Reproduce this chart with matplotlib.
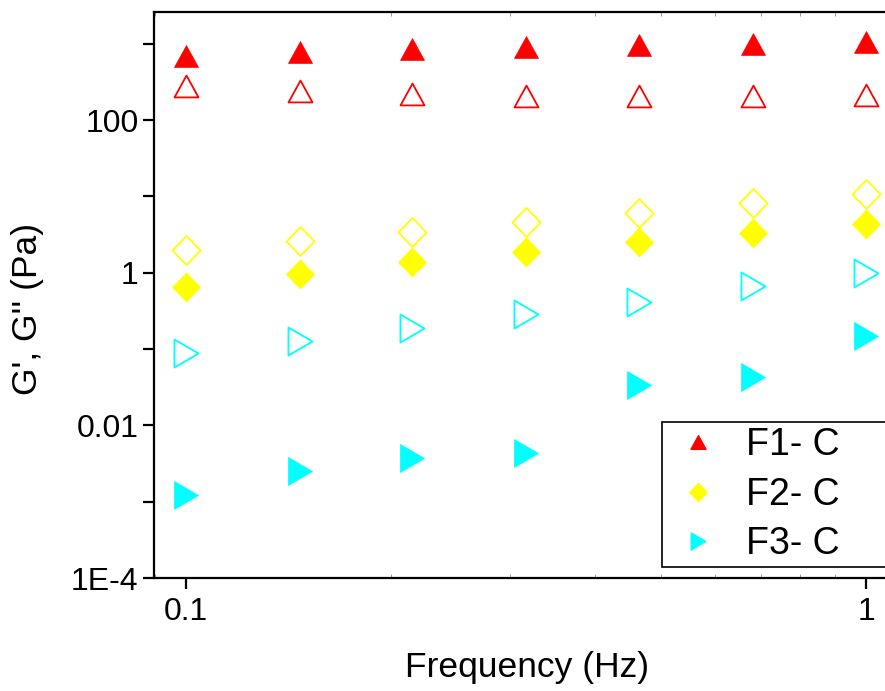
import matplotlib
matplotlib.use("Agg")
import matplotlib.pyplot as plt
from matplotlib.path import Path
from matplotlib.ticker import FixedLocator, FixedFormatter, NullLocator

plt.rcParams['font.family'] = ['Liberation Sans', 'DejaVu Sans']

freq = [0.1, 0.147, 0.215, 0.316, 0.464, 0.681, 1.0]
f1_g1 = [686, 786, 848, 900, 956, 1000, 1047]
f1_g2 = [277, 239, 221, 205, 205, 205, 210]
f2_g1 = [0.656, 0.962, 1.36, 1.86, 2.49, 3.33, 4.32]
f2_g2 = [2.01, 2.60, 3.41, 4.55, 5.97, 8.11, 10.7]
f3_g1 = [0.00121, 0.00249, 0.00376, 0.00435, 0.0338, 0.0433, 0.146]
f3_g2 = [0.0893, 0.128, 0.191, 0.289, 0.417, 0.664, 1.0]

labels = ["F1- C", "F2- C", "F3- C"]
colors = ["#FF0000", "#FFFF00", "#00FFFF"]

ytick_vals = [1e-4, 1e-3, 1e-2, 1e-1, 1, 10, 100, 1000]
ytick_labels = ["1E-4", "", "0.01", "", "1", "", "100", ""]
xtick_vals = [0.1, 1]
xtick_labels = ["0.1", "1"]


def closed(verts):
    return Path(verts + [verts[0]], closed=True)


tri_up = closed([(0, 1), (-1.1, -1), (1.1, -1)])
diamond = closed([(0, 1), (-0.97, 0), (0, -1), (0.97, 0)])
tri_right = closed([(-0.86, 1), (0.86, 0), (-0.86, -1)])

W, H = 885, 691
fig = plt.figure(figsize=(W / 100, H / 100), dpi=100)
ax = fig.add_axes([154 / W, (H - 578) / H, (900 - 154) / W, (578 - 12) / H])
ax.set_xscale('log')
ax.set_yscale('log')
ax.set_xlim(0.0897, 1.122)
ax.set_ylim(1e-4, 2600)

pt = 0.72  # px -> pt at 100 dpi
series = [
    (f1_g1, f1_g2, tri_up, 24 * pt, colors[0]),
    (f2_g1, f2_g2, diamond, 29 * pt, colors[1]),
    (f3_g1, f3_g2, tri_right, 28 * pt, colors[2]),
]
for (g1, g2, mk, ms, c), lab in zip(series, labels):
    ax.plot(freq, g1, linestyle='none', marker=mk, markersize=ms,
            markerfacecolor=c, markeredgecolor=c, markeredgewidth=0.5, label=lab)
    ax.plot(freq, g2, linestyle='none', marker=mk, markersize=ms,
            markerfacecolor='none', markeredgecolor=c, markeredgewidth=1.3)

for s in ax.spines.values():
    s.set_linewidth(1.6)

ax.yaxis.set_major_locator(FixedLocator(ytick_vals))
ax.yaxis.set_major_formatter(FixedFormatter(ytick_labels))
ax.yaxis.set_minor_locator(NullLocator())
ax.xaxis.set_major_locator(FixedLocator(xtick_vals))
ax.xaxis.set_major_formatter(FixedFormatter(xtick_labels))
ax.tick_params(axis='y', which='major', direction='out', length=8, width=1.6,
               labelsize=23, pad=3)
ax.tick_params(axis='x', which='major', direction='out', length=8, width=1.6,
               labelsize=23, pad=6, top=False)
ax.tick_params(axis='x', which='minor', direction='in', length=3, width=0.6,
               color='#888888', top=True)

ax.set_xlabel("Frequency (Hz)", fontsize=25.5, labelpad=17)
ax.set_ylabel("G', G'' (Pa)", fontsize=25.5)
ax.yaxis.set_label_coords(-0.147, 0.475)

legend_handles = []
for mk, c, ms in [(tri_up, colors[0], 15 * pt), (diamond, colors[1], 18 * pt), (tri_right, colors[2], 17 * pt)]:
    lh, = ax.plot([], [], linestyle='none', marker=mk, markersize=ms,
                  markerfacecolor=c, markeredgecolor=c)
    legend_handles.append(lh)
leg = fig.legend(legend_handles, labels, loc='lower left',
                 bbox_to_anchor=(662 / W, (H - 567) / H, 0.3, (567 - 421) / H),
                 mode='expand', fontsize=27, frameon=True, fancybox=False,
                 edgecolor='black', framealpha=1, borderpad=0.12,
                 labelspacing=0.37, handlelength=1.7, handletextpad=0.42,
                 borderaxespad=0)
leg.get_frame().set_linewidth(1.2)

fig.savefig("out.png", dpi=100)
